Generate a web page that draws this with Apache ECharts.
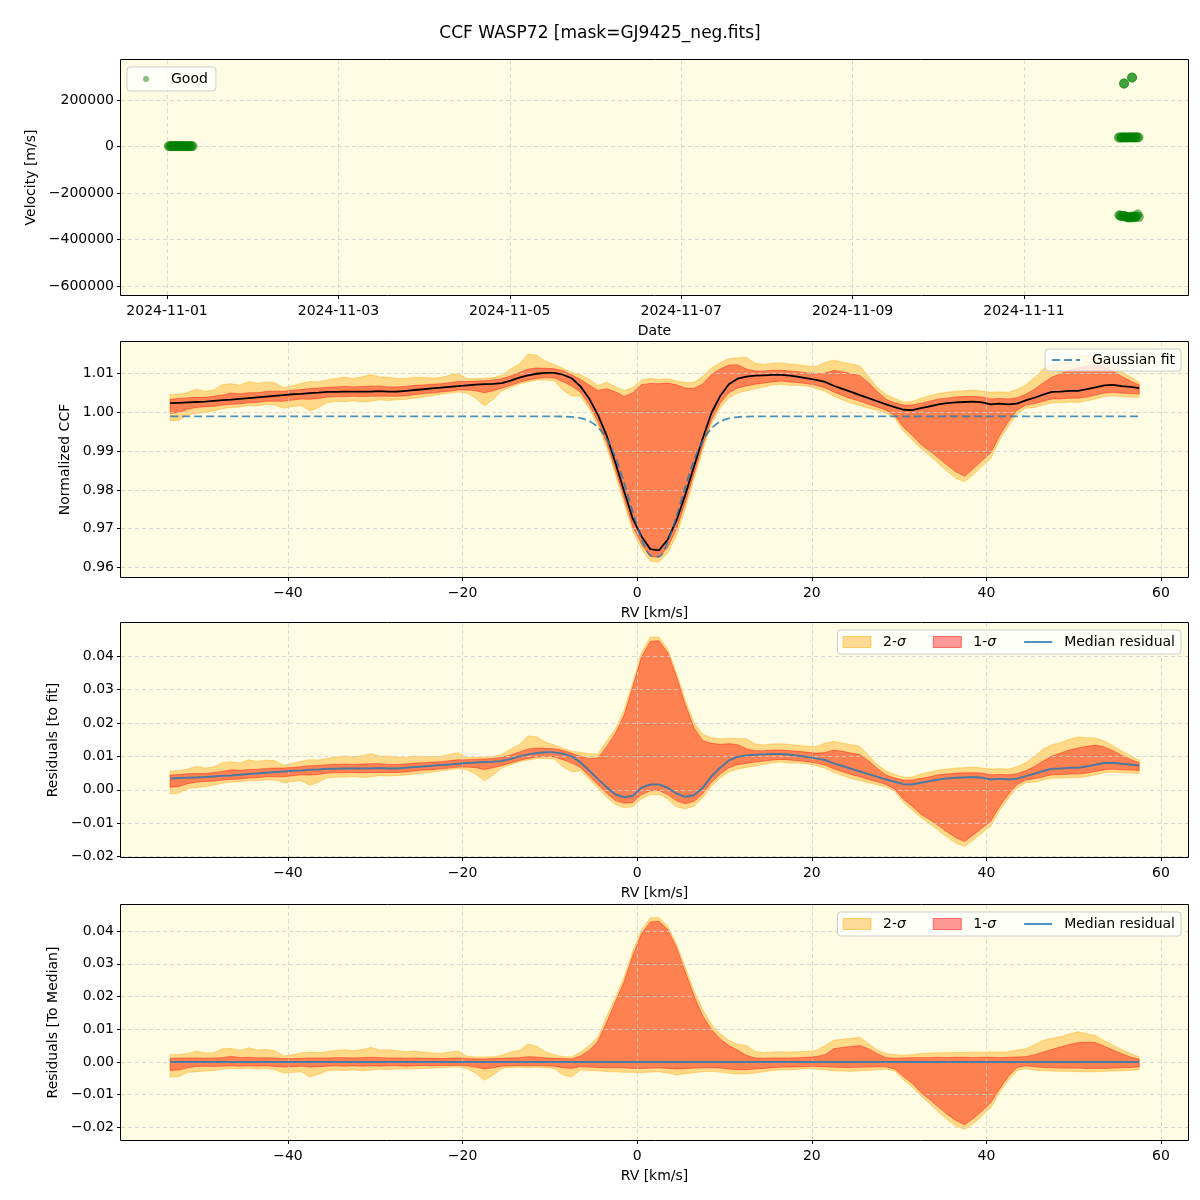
<!DOCTYPE html>
<html><head><meta charset="utf-8">
<script src="https://cdn.jsdelivr.net/npm/echarts@6/dist/echarts.min.js"></script>
<style>html,body{margin:0;padding:0;background:#fff}#c{width:1200px;height:1200px}</style>
</head><body><div id="c"></div>
<script>
// ---------------- DATA ----------------
// RV grid [km/s]
const rv = [-53.5,-52.5,-51.5,-50.5,-49.5,-48.5,-47.5,-46.5,-45.5,-44.5,
-43.5,-42.5,-41.5,-40.5,-39.5,-38.5,-37.5,-36.5,-35.5,-34.5,
-33.5,-32.5,-31.5,-30.5,-29.5,-28.5,-27.5,-26.5,-25.5,-24.5,
-23.5,-22.5,-21.5,-20.5,-19.5,-18.5,-17.5,-16.5,-15.5,-14.5,
-13.5,-12.5,-11.5,-10.5,-9.5,-8.5,-7.5,-6.5,-5.5,-4.5,
-3.5,-2.5,-1.5,-0.5,0.5,1.5,2.5,3.5,4.5,5.5,
6.5,7.5,8.5,9.5,10.5,11.5,12.5,13.5,14.5,15.5,
16.5,17.5,18.5,19.5,20.5,21.5,22.5,23.5,24.5,25.5,
26.5,27.5,28.5,29.5,30.5,31.5,32.5,33.5,34.5,35.5,
36.5,37.5,38.5,39.5,40.5,41.5,42.5,43.5,44.5,45.5,
46.5,47.5,48.5,49.5,50.5,51.5,52.5,53.5,54.5,55.5,
56.5,57.5];
// Gaussian fit of the normalized CCF
const fitCCF = [0.999,0.999,0.999,0.999,0.999,0.999,0.999,0.999,0.999,0.999,
0.999,0.999,0.999,0.999,0.999,0.999,0.999,0.999,0.999,0.999,
0.999,0.999,0.999,0.999,0.999,0.999,0.999,0.999,0.999,0.999,
0.999,0.999,0.999,0.999,0.999,0.999,0.999,0.999,0.999,0.999,
0.999,0.999,0.999,0.999,0.999,0.99895,0.99884,0.99854,0.99779,0.99619,
0.99322,0.98843,0.98183,0.97430,0.96738,0.96310,0.96280,0.96659,0.97323,0.98081,
0.98761,0.99267,0.99587,0.99763,0.99847,0.99882,0.99894,0.999,0.999,0.999,
0.999,0.999,0.999,0.999,0.999,0.999,0.999,0.999,0.999,0.999,
0.999,0.999,0.999,0.999,0.999,0.999,0.999,0.999,0.999,0.999,
0.999,0.999,0.999,0.999,0.999,0.999,0.999,0.999,0.999,0.999,
0.999,0.999,0.999,0.999,0.999,0.999,0.999,0.999,0.999,0.999,
0.999,0.999];
// Median residual to the fit
const resMedian = [0.0034,0.0035,0.0036,0.0037,0.0038,0.0040,0.0042,0.0043,0.0045,0.0047,
0.0049,0.0051,0.0053,0.0055,0.0057,0.0058,0.0060,0.0061,0.0063,0.0063,
0.0064,0.0064,0.0064,0.0064,0.0065,0.0064,0.0064,0.0066,0.0068,0.0070,
0.0072,0.0074,0.0076,0.0078,0.0080,0.0082,0.0083,0.0084,0.0086,0.0092,
0.0100,0.0106,0.0110,0.0112,0.0112,0.0108,0.0100,0.0082,0.0058,0.0032,
0.0008,-0.0014,-0.0022,-0.0018,0.0006,0.0016,0.0016,0.0006,-0.0011,-0.0021,
-0.0016,0.0006,0.0040,0.0066,0.0088,0.0099,0.0103,0.0105,0.0106,0.0107,
0.0107,0.0105,0.0102,0.0098,0.0094,0.0089,0.0079,0.0071,0.0063,0.0055,
0.0047,0.0039,0.0031,0.0024,0.0017,0.0016,0.0021,0.0026,0.0031,0.0034,
0.0036,0.0037,0.0038,0.0036,0.0031,0.0033,0.0031,0.0033,0.0041,0.0048,
0.0056,0.0063,0.0064,0.0066,0.0066,0.0070,0.0075,0.0080,0.0081,0.0078,
0.0076,0.0073];
// Envelopes relative to the median (residuals to median)
const sig2Hi = [0.0022,0.0022,0.0026,0.0033,0.0027,0.0028,0.0040,0.0041,0.0035,0.0043,
0.0036,0.0038,0.0034,0.0018,0.0022,0.0027,0.0030,0.0028,0.0031,0.0035,
0.0037,0.0034,0.0038,0.0044,0.0036,0.0037,0.0034,0.0031,0.0033,0.0030,
0.0027,0.0026,0.0030,0.0033,0.0017,0.0015,0.0015,0.0016,0.0020,0.0030,
0.0035,0.0055,0.0048,0.0030,0.0022,0.0016,0.0015,0.0030,0.0050,0.0075,
0.0138,0.0196,0.0260,0.0340,0.0404,0.0441,0.0441,0.0415,0.0360,0.0290,
0.0217,0.0160,0.0116,0.0086,0.0066,0.0054,0.0050,0.0032,0.0028,0.0030,
0.0031,0.0030,0.0031,0.0032,0.0035,0.0050,0.0066,0.0069,0.0072,0.0075,
0.0056,0.0036,0.0026,0.0022,0.0020,0.0022,0.0026,0.0027,0.0028,0.0028,
0.0029,0.0029,0.0030,0.0029,0.0031,0.0030,0.0031,0.0036,0.0040,0.0052,
0.0066,0.0072,0.0077,0.0085,0.0092,0.0086,0.0080,0.0065,0.0051,0.0038,
0.0026,0.0015];
const sig1Hi = [0.0010,0.0011,0.0012,0.0012,0.0011,0.0012,0.0013,0.0017,0.0013,0.0014,
0.0012,0.0013,0.0012,0.0010,0.0010,0.0011,0.0012,0.0012,0.0012,0.0013,
0.0013,0.0012,0.0013,0.0014,0.0013,0.0012,0.0012,0.0011,0.0012,0.0011,
0.0011,0.0010,0.0011,0.0012,0.0010,0.0009,0.0009,0.0010,0.0011,0.0012,
0.0013,0.0016,0.0015,0.0012,0.0011,0.0010,0.0009,0.0018,0.0035,0.0063,
0.0121,0.0183,0.0245,0.0326,0.0392,0.0428,0.0430,0.0404,0.0350,0.0276,
0.0202,0.0141,0.0099,0.0070,0.0050,0.0036,0.0020,0.0012,0.0011,0.0012,
0.0012,0.0012,0.0013,0.0014,0.0016,0.0022,0.0040,0.0044,0.0047,0.0050,
0.0040,0.0025,0.0013,0.0011,0.0012,0.0013,0.0013,0.0013,0.0014,0.0013,
0.0014,0.0014,0.0013,0.0014,0.0014,0.0013,0.0014,0.0015,0.0016,0.0022,
0.0030,0.0038,0.0046,0.0053,0.0059,0.0060,0.0059,0.0048,0.0036,0.0025,
0.0015,0.0008];
const sig1Lo = [-0.0026,-0.0025,-0.0018,-0.0014,-0.0013,-0.0014,-0.0013,-0.0012,-0.0013,-0.0012,
-0.0013,-0.0012,-0.0014,-0.0016,-0.0015,-0.0013,-0.0016,-0.0015,-0.0013,-0.0012,
-0.0013,-0.0012,-0.0013,-0.0012,-0.0013,-0.0012,-0.0012,-0.0013,-0.0012,-0.0011,
-0.0012,-0.0011,-0.0011,-0.0010,-0.0012,-0.0016,-0.0022,-0.0018,-0.0013,-0.0012,
-0.0012,-0.0012,-0.0012,-0.0012,-0.0013,-0.0018,-0.0020,-0.0015,-0.0016,-0.0017,
-0.0018,-0.0018,-0.0018,-0.0020,-0.0020,-0.0019,-0.0018,-0.0020,-0.0022,-0.0021,
-0.0019,-0.0018,-0.0018,-0.0019,-0.0022,-0.0024,-0.0024,-0.0022,-0.0020,-0.0018,
-0.0016,-0.0016,-0.0015,-0.0014,-0.0014,-0.0015,-0.0016,-0.0017,-0.0017,-0.0016,
-0.0016,-0.0015,-0.0015,-0.0022,-0.0045,-0.0065,-0.0094,-0.0115,-0.0138,-0.0160,
-0.0179,-0.0192,-0.0173,-0.0150,-0.0125,-0.0083,-0.0045,-0.0017,-0.0012,-0.0015,
-0.0017,-0.0018,-0.0019,-0.0019,-0.0019,-0.0020,-0.0020,-0.0020,-0.0019,-0.0018,
-0.0017,-0.0015];
const sig2Lo = [-0.0046,-0.0045,-0.0032,-0.0030,-0.0028,-0.0026,-0.0022,-0.0020,-0.0021,-0.0019,
-0.0022,-0.0020,-0.0024,-0.0034,-0.0032,-0.0030,-0.0046,-0.0038,-0.0027,-0.0025,
-0.0026,-0.0024,-0.0027,-0.0025,-0.0022,-0.0023,-0.0021,-0.0022,-0.0021,-0.0020,
-0.0019,-0.0017,-0.0016,-0.0015,-0.0020,-0.0035,-0.0056,-0.0040,-0.0020,-0.0017,
-0.0016,-0.0017,-0.0016,-0.0018,-0.0020,-0.0040,-0.0046,-0.0025,-0.0026,-0.0027,
-0.0030,-0.0030,-0.0032,-0.0032,-0.0033,-0.0031,-0.0030,-0.0034,-0.0040,-0.0036,
-0.0033,-0.0030,-0.0029,-0.0031,-0.0035,-0.0037,-0.0036,-0.0034,-0.0030,-0.0026,
-0.0024,-0.0025,-0.0022,-0.0020,-0.0022,-0.0024,-0.0027,-0.0028,-0.0029,-0.0027,
-0.0026,-0.0024,-0.0022,-0.0028,-0.0055,-0.0077,-0.0104,-0.0128,-0.0153,-0.0176,
-0.0196,-0.0206,-0.0189,-0.0165,-0.0140,-0.0094,-0.0057,-0.0027,-0.0020,-0.0025,
-0.0027,-0.0028,-0.0029,-0.0029,-0.0030,-0.0030,-0.0030,-0.0029,-0.0028,-0.0027,
-0.0026,-0.0024];
// Median residual relative to the median itself
const medToMedian = [0,0,0,0,0,0,0,0,0,0,0,0,0,0,0,0,0,0,0,0,0,0,0,0,0,0,0,0,0,0,
0,0,0,0,0,0,0,0,0,0,0,0,0,0,0,0,0,0,0,0,0,0,0,0,0,0,0,0,0,0,
0,0,0,0,0,0,0,0,0,0,0,0,0,0,0,0,0,0,0,0,0,0,0,0,0,0,0,0,0,0,
0,0,0,0,0,0,0,0,0,0,0,0,0,0,0,0,0,0,0,0,0,0];
// Velocity time series
const goodDates = [
'2024-11-01T00:30:00Z','2024-11-01T00:50:00Z','2024-11-01T01:10:00Z','2024-11-01T01:30:00Z','2024-11-01T01:50:00Z','2024-11-01T02:10:00Z','2024-11-01T02:30:00Z',
'2024-11-01T02:50:00Z','2024-11-01T03:10:00Z','2024-11-01T03:30:00Z','2024-11-01T03:50:00Z','2024-11-01T04:10:00Z','2024-11-01T04:30:00Z','2024-11-01T04:50:00Z',
'2024-11-01T05:10:00Z','2024-11-01T05:30:00Z','2024-11-01T05:50:00Z','2024-11-01T06:10:00Z','2024-11-01T06:30:00Z','2024-11-01T06:50:00Z','2024-11-01T07:10:00Z',
'2024-11-12T02:35:00Z','2024-11-12T02:56:00Z','2024-11-12T03:16:00Z','2024-11-12T03:37:00Z','2024-11-12T03:57:00Z','2024-11-12T04:18:00Z','2024-11-12T04:39:00Z',
'2024-11-12T04:59:00Z','2024-11-12T05:20:00Z','2024-11-12T05:40:00Z','2024-11-12T06:01:00Z','2024-11-12T06:22:00Z','2024-11-12T06:42:00Z','2024-11-12T07:03:00Z',
'2024-11-12T07:23:00Z','2024-11-12T07:44:00Z','2024-11-12T08:05:00Z',
'2024-11-12T02:40:00Z','2024-11-12T03:01:00Z','2024-11-12T03:21:00Z','2024-11-12T03:42:00Z','2024-11-12T04:02:00Z','2024-11-12T04:23:00Z','2024-11-12T04:44:00Z',
'2024-11-12T05:04:00Z','2024-11-12T05:25:00Z','2024-11-12T05:45:00Z','2024-11-12T06:06:00Z','2024-11-12T06:27:00Z','2024-11-12T06:47:00Z','2024-11-12T07:08:00Z',
'2024-11-12T07:28:00Z','2024-11-12T07:49:00Z','2024-11-12T08:10:00Z',
'2024-11-12T04:00:00Z','2024-11-12T04:03:00Z','2024-11-12T06:15:00Z','2024-11-12T06:17:00Z'];
const goodRV = [
1500,1800,1200,1700,1400,1900,1600,1300,1800,1500,1700,1400,1600,1900,1300,1500,1800,1200,1600,1700,1400,
38500,39200,38000,39800,38700,39500,38200,39000,40100,38600,39400,38800,39600,38300,39900,38900,39300,
-296000,-297000,-300000,-299000,-298000,-301000,-303000,-305000,-302000,-306000,-304000,-300000,-305000,-303000,-301000,-292000,-303000,
270000,271500,296000,297000];
// Tick labels
const dateTicks = [0,2,4,6,8,10];
const rvTicks = [-40,-20,0,20,40,60];
const velTicks = [-600000,-400000,-200000,0,200000];
const ccfTicks = [0.96,0.97,0.98,0.99,1.00,1.01];
const resTicks = [-0.02,-0.01,0,0.01,0.02,0.03,0.04];

// ---------------- CHART ----------------
const FONT = 'DejaVu Sans';
const BG = '#fefce2';
const C2 = 'rgba(255,165,0,0.4)';
const C1 = 'rgba(255,0,0,0.4)';
const BLUE = 'rgba(31,119,180,0.8)';
const t0 = Date.parse('2024-11-01T00:00:00Z');
const DAY = 86400000;
const mult = (v, s) => Math.abs(v / s - Math.round(v / s)) < 1e-6;
const minus = s => s.replace('-', '\u2212');
const fmtInt = s => v => mult(v, s) ? minus(String(Math.round(v))) : '';
const fmt2 = v => mult(v, 0.01) ? (Math.abs(v) < 1e-9 ? '0.00' : minus(v.toFixed(2))) : '';
const fmtDate = v => mult(v, 2) ? new Date(t0 + Math.round(v) * DAY).toISOString().slice(0, 10) : '';

const tStyle = {fontFamily: FONT, fontSize: 14, color: '#000'};
const gridBase = {show: true, backgroundColor: BG, borderWidth: 0, z: -5, containLabel: false, outerBoundsMode: 'none'};
const grids = [
  Object.assign({left: 121, top: 60, width: 1067, height: 235}, gridBase),
  Object.assign({left: 121, top: 342, width: 1067, height: 235}, gridBase),
  Object.assign({left: 121, top: 623, width: 1067, height: 234}, gridBase),
  Object.assign({left: 121, top: 905, width: 1067, height: 235}, gridBase)
];
const split = {show: true, lineStyle: {color: '#cfcfcf', type: [4, 3], width: 0.8}};
function xAx(gi, min, max, ticks, fmt, name) {
  return {type: 'value', gridIndex: gi, min, max, splitNumber: 6, name, nameLocation: 'middle', nameGap: 29,
    nameTextStyle: tStyle, axisLine: {show: false, onZero: false},
    axisTick: {show: true, length: 4, lineStyle: {color: '#000'}, customValues: ticks},
    axisLabel: Object.assign({margin: 9, customValues: ticks, formatter: fmt}, tStyle), splitLine: split};
}
function yAx(gi, min, max, ticks, fmt, name, gap) {
  return {type: 'value', gridIndex: gi, min, max, splitNumber: 6, name, nameLocation: 'middle', nameGap: gap, nameRotate: 90,
    nameTextStyle: tStyle, axisLine: {show: false, onZero: false},
    axisTick: {show: true, length: 4, lineStyle: {color: '#000'}, customValues: ticks},
    axisLabel: Object.assign({margin: 7, customValues: ticks, formatter: fmt}, tStyle), splitLine: split};
}
function band(name, gi, lo, hi, fill, z) {
  const data = rv.map((x, i) => [x, lo[i], hi[i]]);
  return {type: 'custom', name, xAxisIndex: gi, yAxisIndex: gi, z, silent: true, data, encode: {x: 0, y: [1, 2]},
    renderItem(params, api) {
      if (params.dataIndex !== 0) return null;
      const up = [], dn = [];
      for (let i = 0; i < data.length; i++) {
        up.push(api.coord([data[i][0], data[i][2]]));
        dn.push(api.coord([data[i][0], data[i][1]]));
      }
      return {type: 'polygon', shape: {points: up.concat(dn.reverse())}, style: {fill, stroke: fill, lineWidth: 1}};
    }};
}
function line(name, gi, ys, color, width, extra) {
  return Object.assign({type: 'line', name, xAxisIndex: gi, yAxisIndex: gi, data: rv.map((x, i) => [x, ys[i]]),
    symbol: 'none', lineStyle: {color, width}, itemStyle: {color}, z: 3}, extra || {});
}
const ccfMed = rv.map((x, i) => fitCCF[i] + resMedian[i]);
const add = (a, b) => a.map((v, i) => v + b[i]);

const legendBase = {backgroundColor: 'rgba(255,255,255,0.8)', borderColor: '#cccccc', borderWidth: 1, borderRadius: 3,
  selectedMode: false, textStyle: Object.assign({padding: [0, 0, 0, 7], rich: {i: {fontStyle: 'italic', fontFamily: FONT, fontSize: 14, color: '#000'}}}, tStyle)};
const sigLegend = top => Object.assign({}, legendBase, {right: 19, top, itemGap: 27, itemWidth: 28, itemHeight: 11, padding: [5, 6, 5, 5],
  formatter: n => n.replace('σ', '{i|σ}'),
  data: [{name: '2-σ', icon: 'rect', itemStyle: {color: C2, borderColor: 'rgba(255,165,0,0.5)', borderWidth: 1}},
         {name: '1-σ', icon: 'rect', itemStyle: {color: C1, borderColor: 'rgba(255,0,0,0.5)', borderWidth: 1}},
         {name: 'Median residual', itemStyle: {opacity: 0}}]});

const option = {
  animation: false,
  backgroundColor: '#fff',
  title: {text: 'CCF WASP72 [mask=GJ9425_neg.fits]', left: 'center', top: 20, textStyle: {fontFamily: FONT, fontSize: 17, fontWeight: 'normal', color: '#000'}},
  grid: grids,
  graphic: grids.map(g => ({type: 'rect', silent: true, z: 100,
    shape: {x: g.left - 0.5, y: g.top - 0.5, width: g.width + 1, height: g.height + 1},
    style: {fill: 'none', stroke: '#000', lineWidth: 1}})),
  legend: [
    Object.assign({}, legendBase, {left: 127, top: 67, itemWidth: 26, itemHeight: 6, padding: [5, 8, 5, 16],
      data: [{name: 'Good', icon: 'circle', itemStyle: {color: 'rgba(0,128,0,0.6)', borderWidth: 0}}]}),
    Object.assign({}, legendBase, {right: 19, top: 349, itemWidth: 28, itemHeight: 12, padding: [4, 6, 4, 6],
      data: [{name: 'Gaussian fit', itemStyle: {opacity: 0}}]}),
    sigLegend(630),
    sigLegend(912)
  ],
  xAxis: [
    xAx(0, -0.537, 11.914, dateTicks, fmtDate, 'Date'),
    xAx(1, -59.13, 63.09, rvTicks, fmtInt(20), 'RV [km/s]'),
    xAx(2, -59.13, 63.09, rvTicks, fmtInt(20), 'RV [km/s]'),
    xAx(3, -59.13, 63.09, rvTicks, fmtInt(20), 'RV [km/s]')
  ],
  yAxis: [
    yAx(0, -638700, 372000, velTicks, fmtInt(200000), 'Velocity [m/s]', 79),
    yAx(1, 0.9575, 1.0182, ccfTicks, fmt2, 'Normalized CCF', 48),
    yAx(2, -0.0201, 0.0499, resTicks, fmt2, 'Residuals [to fit]', 59),
    yAx(3, -0.0239, 0.0480, resTicks, fmt2, 'Residuals [To Median]', 59)
  ],
  series: [
    {type: 'scatter', name: 'Good', xAxisIndex: 0, yAxisIndex: 0, symbolSize: 9,
     data: goodDates.map((d, i) => [(Date.parse(d) - t0) / DAY, goodRV[i]]),
     itemStyle: {color: 'rgba(0,128,0,0.6)', borderColor: 'rgba(0,128,0,0.6)', borderWidth: 1}},
    band('CCF 2-σ', 1, add(ccfMed, sig2Lo), add(ccfMed, sig2Hi), C2, -2),
    band('CCF 1-σ', 1, add(ccfMed, sig1Lo), add(ccfMed, sig1Hi), C1, -1),
    line('Median CCF', 1, ccfMed, '#000', 1.8),
    line('Gaussian fit', 1, fitCCF, BLUE, 1.8, {smooth: 0.3, lineStyle: {color: BLUE, width: 1.8, type: [8, 4]}, z: 4}),
    band('2-σ', 2, add(resMedian, sig2Lo), add(resMedian, sig2Hi), C2, -2),
    band('1-σ', 2, add(resMedian, sig1Lo), add(resMedian, sig1Hi), C1, -1),
    line('Median residual', 2, resMedian, BLUE, 2),
    band('2-σ', 3, sig2Lo, sig2Hi, C2, -2),
    band('1-σ', 3, sig1Lo, sig1Hi, C1, -1),
    line('Median residual', 3, medToMedian, BLUE, 2)
  ]
};
const chart = echarts.init(document.getElementById('c'), null, {renderer: 'canvas', width: 1200, height: 1200});
chart.setOption(option);
</script>
</body></html>
